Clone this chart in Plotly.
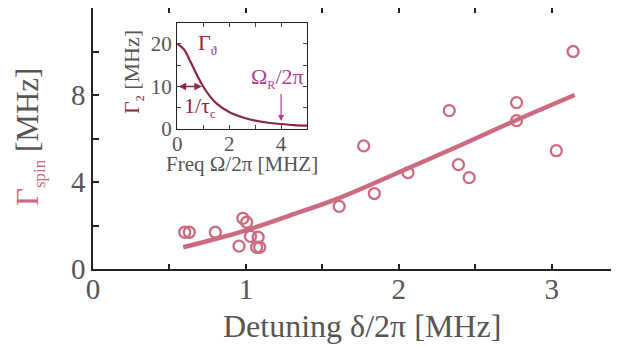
import plotly.graph_objects as go

# Main data: spin dephasing rate vs detuning
detuning = [0.60, 0.63, 0.80, 0.955, 0.98, 1.005, 1.03, 1.08, 1.07, 1.09,
            1.61, 1.77, 1.84, 2.06, 2.33, 2.39, 2.46, 2.77, 2.77, 3.03, 3.14]
gamma_spin = [1.69, 1.69, 1.69, 1.05, 2.33, 2.15, 1.50, 1.46, 1.00, 1.00,
              2.88, 5.66, 3.47, 4.43, 7.28, 4.80, 4.20, 7.65, 6.82, 5.44, 10.0]

fit_x = [0.59, 0.8, 1.0, 1.29, 1.6, 2.05, 2.4, 2.77, 3.15]
fit_y = [1.0, 1.38, 1.78, 2.47, 3.24, 4.6, 5.68, 6.85, 8.0]

# Inset data
freq = [0, 0.25, 0.5, 0.75, 1.0, 1.25, 1.5, 2.0, 2.5, 3.0, 3.5, 4.0, 4.5, 5.0]
gamma2 = [20, 18.8, 16.0, 12.8, 10.0, 7.8, 6.1, 4.0, 2.8, 2.0, 1.5, 1.2, 0.95, 0.8]

x_ticks = [0, 0.5, 1, 1.5, 2, 2.5, 3]
x_ticktext = ["0", "", "1", "", "2", "", "3"]
y_ticks = [0, 2, 4, 6, 8, 10]
y_ticktext = ["0", "", "4", "", "8", ""]
ix_ticks = [0, 1, 2, 3, 4, 5]
ix_ticktext = ["0", "", "2", "", "4", ""]
iy_ticks = [0, 5, 10, 15, 20]
iy_ticktext = ["0", "", "10", "", "20"]

PINK = "#cc6b80"
DARK = "#8b2a3e"
MAG = "#b0408e"
GREY = "#555555"
FONT = "Liberation Serif"

fig = go.Figure()
fig.add_trace(go.Scatter(x=fit_x, y=fit_y, mode="lines", line=dict(color=PINK, width=4.5, shape="spline"),
                         showlegend=False, hoverinfo="skip"))
fig.add_trace(go.Scatter(x=detuning, y=gamma_spin, mode="markers",
                         marker=dict(symbol="circle-open", size=11, color=PINK, line=dict(width=2.3, color=PINK)),
                         showlegend=False))
fig.add_trace(go.Scatter(x=freq, y=gamma2, mode="lines", line=dict(color=DARK, width=2.2, shape="spline"),
                         xaxis="x2", yaxis="y2", showlegend=False))

axis_common = dict(showline=True, linecolor="#222", linewidth=1.5, mirror="ticks", ticks="inside",
                   showgrid=False, zeroline=False, tickcolor="#222")

# The page adds an 8px body margin, so the figure is sized/positioned to compensate.
fig.update_layout(
    width=611, height=338,
    margin=dict(l=85, r=0, t=0, b=77, autoexpand=False),
    paper_bgcolor="white", plot_bgcolor="white",
    font=dict(family=FONT, color=GREY),
    xaxis=dict(range=[0, 3.44], tickvals=x_ticks, ticktext=x_ticktext, ticklen=5, tickwidth=1.5,
               ticklabelstandoff=-7, tickfont=dict(size=29, color=GREY), **axis_common),
    yaxis=dict(range=[0, 12], tickvals=y_ticks, ticktext=y_ticktext, ticklen=6, tickwidth=1.5,
               tickfont=dict(size=29, color=GREY), **axis_common),
    xaxis2=dict(domain=[0.16, 0.407], anchor="y2", range=[0, 5], tickvals=ix_ticks, ticktext=ix_ticktext,
                ticklen=4, tickwidth=1, ticklabelstandoff=-4, tickfont=dict(size=21, color=GREY),
                showline=True, linecolor="#222", linewidth=1.2, mirror="ticks", ticks="inside",
                showgrid=False, zeroline=False),
    yaxis2=dict(domain=[0.536, 0.944], anchor="x2", range=[0, 25], tickvals=iy_ticks, ticktext=iy_ticktext,
                ticklen=4, tickwidth=1, tickfont=dict(size=21, color=GREY),
                showline=True, linecolor="#222", linewidth=1.2, mirror="ticks", ticks="inside",
                showgrid=False, zeroline=False),
)

W, H0, X0, Y0 = 526, 261, 93, 269  # plot area in page pixels
def px(x):
    return (x - X0) / W
def py(y):
    return (Y0 - y) / H0

annotations = [
    dict(text="Detuning δ/2π [MHz]", xref="paper", yref="paper", x=px(362), y=py(326),
         showarrow=False, font=dict(size=32, color=GREY)),
    dict(text=f"<span style='color:{PINK}'>Γ<sub><span style='font-size:17px'>spin</span></sub></span> [MHz]",
         xref="paper", yref="paper",
         x=px(29), y=py(137), textangle=-90, showarrow=False, font=dict(size=31, color=GREY)),
    dict(text="Freq Ω/2π [MHZ]", xref="paper", yref="paper", x=px(242), y=py(164),
         showarrow=False, font=dict(size=21, color=GREY)),
    dict(text=f"<span style='color:{DARK}'>Γ<sub><span style='font-size:12px'>2</span></sub></span> [MHz]",
         xref="paper", yref="paper",
         x=px(133), y=py(72), textangle=-90, showarrow=False, font=dict(size=22, color=GREY)),
    dict(text="Γ<sub><span style='font-size:12px'>ϑ</span></sub>", xref="x2", yref="y2", x=1.15, y=20,
         showarrow=False, font=dict(size=22, color=DARK)),
    dict(text="1/τ<sub><span style='font-size:12px'>c</span></sub>", xref="x2", yref="y2", x=0.85, y=5.3,
         showarrow=False, font=dict(size=22, color=DARK)),
    dict(text="Ω<sub><span style='font-size:12px'>R</span></sub>/2π", xref="x2", yref="y2", x=3.85, y=12,
         showarrow=False, font=dict(size=22, color=MAG)),
    dict(text="", xref="x2", yref="y2", x=0.95, y=10, axref="x2", ayref="y2", ax=0.0, ay=10,
         showarrow=True, arrowhead=2, arrowside="end+start", arrowsize=1, arrowwidth=1.5, arrowcolor=DARK),
    dict(text="", xref="x2", yref="y2", x=4.0, y=1.9, axref="x2", ayref="y2", ax=4.0, ay=8.6,
         showarrow=True, arrowhead=2, arrowsize=1, arrowwidth=1.2, arrowcolor=MAG),
]
for a in annotations:
    a.setdefault("xanchor", "center")
    a.setdefault("yanchor", "middle")
fig.update_layout(annotations=annotations)

fig.write_html("out.html")
